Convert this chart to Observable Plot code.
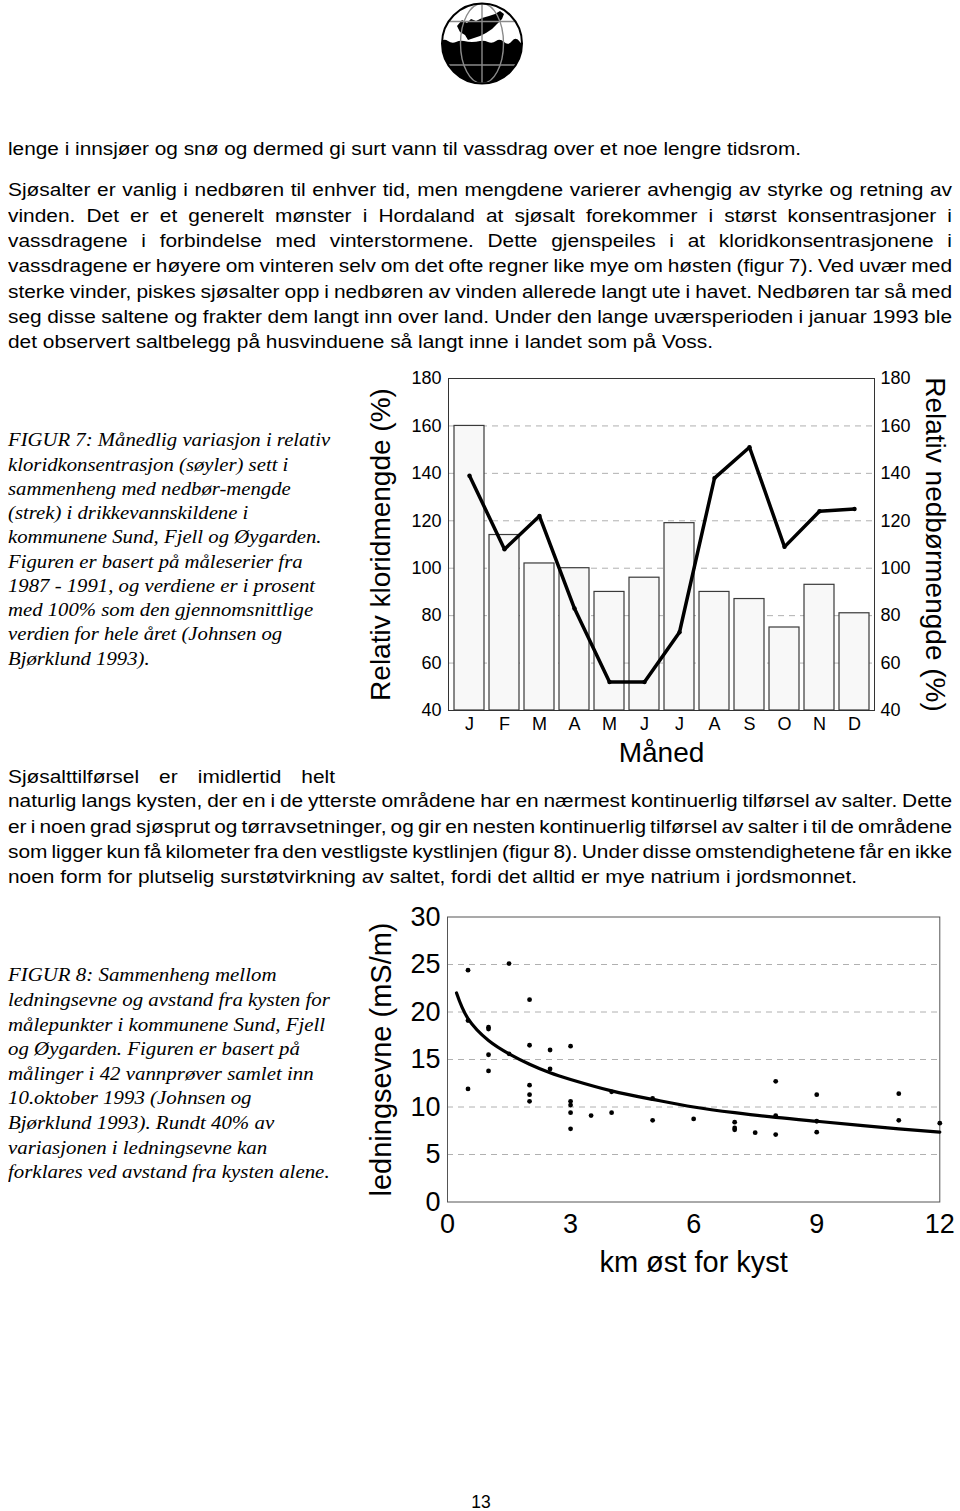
<!DOCTYPE html>
<html><head><meta charset="utf-8">
<script src="https://cdn.jsdelivr.net/npm/d3@7"></script>
<script src="https://cdn.jsdelivr.net/npm/@observablehq/plot@0.6"></script>
<style>
html,body{margin:0;padding:0;background:#fff;}
#page{position:relative;width:960px;height:1511px;overflow:hidden;background:#fff;}
.ln{position:absolute;white-space:pre;transform-origin:0 0;color:#000;}
.body{font-family:"Liberation Sans",Arial,sans-serif;}
.cap{font-family:"Liberation Serif","Times New Roman",serif;font-style:italic;}
.chart{position:absolute;}
</style></head><body><div id="page">
<svg id="logo" style="position:absolute;left:440px;top:2px" width="84" height="86">
<defs><clipPath id="cc"><circle cx="42" cy="41.5" r="40"/></clipPath></defs>
<g clip-path="url(#cc)">
<rect width="84" height="86" fill="#fff"/>
<path d="M0,40 q4,-4 8,-1 t8,1 t8,-1 t8,1 t8,-1 t8,1 t8,-1 t8,1 t8,-1 t8,1 t8,-1 L90,90 L0,90Z" fill="#000"/>
<path d="M17,24 L22,18 L27,21 L31,17 L36,19 L42,16 L49,14 L55,12 L60,9 L64,12 L62,17 L57,22 L52,27 L46,31 L40,34 L34,36 L28,38 L25,33 L20,30 Z" fill="#000"/>
<g fill="none" stroke="#8a8a8a" stroke-width="1.4">
<line x1="42" y1="0" x2="42" y2="86"/>
<ellipse cx="42" cy="41.5" rx="21.5" ry="40"/>
<line x1="0" y1="19.5" x2="84" y2="19.5"/>
<line x1="0" y1="63" x2="84" y2="63"/>
</g>
</g>
<circle cx="42" cy="41.5" r="40" fill="none" stroke="#000" stroke-width="2"/>
</svg>
</div>
<script>
// ---------- data: Figur 7 ----------
const monthLabels = ["J","F","M","A","M","J","J","A","S","O","N","D"];
const chloride = [160,114,102,100,90,96,119,90,87,75,93,81];   // bars (søyler)
const precip   = [139,108,122,83,52,52,73,138,151,109,124,125]; // line (strek)
const yTicks1 = [40,60,80,100,120,140,160,180];
const grid1 = [60,80,100,120,140,160];

// ---------- data: Figur 8 ----------
const sampleKm   = [0.5,0.5,0.5,1,1,1,1,1.5,1.5,2,2,2,2,2,2.5,2.5,3,3,3,3,3,3.5,4,4,5,5,6,7,7,7,7.5,8,8,8,9,9,9,11,11,12];
const sampleCond = [24.4,19.1,11.9,18.4,18.2,15.5,13.8,25.1,15.6,21.3,16.5,12.3,11.3,10.6,16.0,14.0,16.4,10.6,10.2,9.4,7.7,9.1,11.6,9.4,10.9,8.6,8.75,8.4,7.8,7.6,7.3,12.7,9.1,7.1,11.3,8.5,7.35,11.4,8.6,8.3];
const fitKm   = [0.22,0.5,1,1.5,2,2.5,3,4,5,6,7,8,9,10,11,12];
const fitCond = [22.0,19.3,17.0,15.6,14.5,13.6,12.9,11.7,10.8,10.0,9.4,8.9,8.5,8.1,7.7,7.35];
const xTicks2 = [0,3,6,9,12];
const yTicks2 = [0,5,10,15,20,25,30];
const grid2 = [5,10,15,20,25];

// ---------- text ----------
const para1 = [
 {t:"lenge i innsjøer og snø og dermed gi surt vann til vassdrag over et noe lengre tidsrom.", base:156, end:801, just:false}
];
const para2 = [
 {t:"Sjøsalter er vanlig i nedbøren til enhver tid, men mengdene varierer avhengig av styrke og retning av", base:197, end:952, just:true},
 {t:"vinden. Det er et generelt mønster i Hordaland at sjøsalt forekommer i størst konsentrasjoner i", base:223, end:952, just:true},
 {t:"vassdragene i forbindelse med vinterstormene. Dette gjenspeiles i at kloridkonsentrasjonene i", base:248, end:952, just:true},
 {t:"vassdragene er høyere om vinteren selv om det ofte regner like mye om høsten (figur 7). Ved uvær med", base:273, end:952, just:true},
 {t:"sterke vinder, piskes sjøsalter opp i nedbøren av vinden allerede langt ute i havet. Nedbøren tar så med", base:299, end:952, just:true},
 {t:"seg disse saltene og frakter dem langt inn over land. Under den lange uværsperioden i januar 1993 ble", base:324, end:952, just:true},
 {t:"det observert saltbelegg på husvinduene så langt inne i landet som på Voss.", base:349, end:713, just:false}
];
const para3 = [
 {t:"Sjøsalttilførsel er imidlertid helt", base:784, end:335, just:true},
 {t:"naturlig langs kysten, der en i de ytterste områdene har en nærmest kontinuerlig tilførsel av salter. Dette", base:808, end:952, just:true},
 {t:"er i noen grad sjøsprut og tørravsetninger, og gir en nesten kontinuerlig tilførsel av salter i til de områdene", base:834, end:952, just:true},
 {t:"som ligger kun få kilometer fra den vestligste kystlinjen (figur 8). Under disse omstendighetene får en ikke", base:859, end:952, just:true},
 {t:"noen form for plutselig surstøtvirkning av saltet, fordi det alltid er mye natrium i jordsmonnet.", base:884, end:857, just:false}
];
const cap7 = [
 {t:"FIGUR 7: Månedlig variasjon i relativ", base:446.5, end:333},
 {t:"kloridkonsentrasjon (søyler) sett i", base:470.8, end:288},
 {t:"sammenheng med nedbør-mengde", base:495},
 {t:"(strek) i drikkevannskildene i", base:519.3},
 {t:"kommunene Sund, Fjell og Øygarden.", base:543.5, end:325},
 {t:"Figuren er basert på måleserier fra", base:567.8},
 {t:"1987 - 1991, og verdiene er i prosent", base:592},
 {t:"med 100% som den gjennomsnittlige", base:616.3},
 {t:"verdien for hele året (Johnsen og", base:640.5},
 {t:"Bjørklund 1993).", base:665, end:147}
];
const cap8 = [
 {t:"FIGUR 8: Sammenheng mellom", base:981.5, end:276},
 {t:"ledningsevne og avstand fra kysten for", base:1006, end:332},
 {t:"målepunkter i kommunene Sund, Fjell", base:1030.7},
 {t:"og Øygarden. Figuren er basert på", base:1055.3},
 {t:"målinger i 42 vannprøver samlet inn", base:1079.9},
 {t:"10.oktober 1993 (Johnsen og", base:1104.5},
 {t:"Bjørklund 1993). Rundt 40% av", base:1129.1},
 {t:"variasjonen i ledningsevne kan", base:1153.7},
 {t:"forklares ved avstand fra kysten alene.", base:1178.3, end:328}
];

const page = document.getElementById("page");
function addLine(cls, size, text, x, base) {
  const s = document.createElement("span");
  s.className = "ln " + cls;
  s.style.fontSize = size + "px";
  s.style.lineHeight = size + "px";
  s.textContent = text;
  s.style.left = x + "px";
  const asc = cls === "cap" ? 0.8375 : 0.8465;
  s.style.top = (base - asc * size) + "px";
  page.appendChild(s);
  return s;
}
function paragraph(lines, cls, size, x) {
  const spans = lines.map(l => addLine(cls, size, l.t, x, l.base));
  const widths = spans.map(s => s.getBoundingClientRect().width);
  const ref = lines.map((l, i) => i).filter(i => !lines[i].just && lines[i].end != null);
  const c = d3.mean(ref, i => (lines[i].end - x) / widths[i]);
  spans.forEach((s, i) => {
    const l = lines[i];
    if (l.just) {
      const n = (l.t.match(/ /g) || []).length;
      const target = (l.end - x) / c;
      s.style.wordSpacing = ((target - widths[i]) / n) + "px";
    }
    s.style.transform = `scaleX(${c})`;
  });
}
paragraph(para1, "body", 17.5, 8);
paragraph(para2, "body", 17.5, 8);
paragraph(para3, "body", 17.5, 8);
paragraph(cap7, "cap", 18, 8);
paragraph(cap8, "cap", 18, 8);
const pn = addLine("body", 17.5, "13", 0, 1509);
pn.style.left = (481 - pn.getBoundingClientRect().width / 2) + "px";

// ---------- Figur 7 chart ----------
const months = monthLabels.map((m, i) => ({i, chloride: chloride[i], precip: precip[i]}));
const chart1 = Plot.plot({
  width: 605, height: 420,
  marginLeft: 93, marginRight: 86, marginTop: 18, marginBottom: 70,
  style: {fontFamily: "'Liberation Sans', Arial, sans-serif", background: "transparent", overflow: "visible", color: "#000"},
  x: {type: "band", domain: d3.range(12), paddingInner: 0.155, paddingOuter: 0.085},
  y: {domain: [40, 180]},
  marks: [
    Plot.ruleY(grid1, {stroke: "#b0b0b0", strokeDasharray: "6,5", strokeWidth: 1}),
    Plot.barY(months, {x: "i", y1: 40, y2: "chloride", fill: "#f8f8f8", stroke: "#3a3a3a", strokeWidth: 1.2}),
    Plot.line(months, {x: "i", y: "precip", stroke: "#000", strokeWidth: 3.5}),
    Plot.dot(months, {x: "i", y: "precip", r: 2.2, fill: "#000"}),
    Plot.frame({stroke: "#333", strokeWidth: 1}),
    Plot.axisX({tickSize: 0, tickPadding: 7, fontSize: 18, tickFormat: i => monthLabels[i], label: null}),
    Plot.axisY(yTicks1, {anchor: "left", tickSize: 0, tickPadding: 7, fontSize: 18, label: null}),
    Plot.axisY(yTicks1, {anchor: "right", tickSize: 0, tickPadding: 6, fontSize: 18, label: null}),
    Plot.text(["Måned"], {text: d => d, frameAnchor: "bottom", dy: 43, fontSize: 28, textAnchor: "middle", lineAnchor: "middle"}),
    Plot.text(["Relativ kloridmengde (%)"], {text: d => d, frameAnchor: "left", dx: -67, rotate: -90, fontSize: 28, textAnchor: "middle", lineAnchor: "middle"}),
    Plot.text(["Relativ nedbørmengde (%)"], {text: d => d, frameAnchor: "right", dx: 60, rotate: 90, fontSize: 28, textAnchor: "middle", lineAnchor: "middle"})
  ]
});
chart1.classList.add("chart");
chart1.style.left = "355px"; chart1.style.top = "360px";
page.appendChild(chart1);

// ---------- Figur 8 chart ----------
const samples = sampleKm.map((k, i) => ({km: k, cond: sampleCond[i]}));
const fit = fitKm.map((k, i) => ({km: k, cond: fitCond[i]}));
const chart2 = Plot.plot({
  width: 605, height: 400,
  marginLeft: 92, marginRight: 20.7, marginTop: 26.5, marginBottom: 88.5,
  style: {fontFamily: "'Liberation Sans', Arial, sans-serif", background: "transparent", overflow: "visible", color: "#000"},
  x: {domain: [0, 12]},
  y: {domain: [0, 30]},
  marks: [
    Plot.ruleY(grid2, {stroke: "#b0b0b0", strokeDasharray: "6,5", strokeWidth: 1}),
    Plot.frame({stroke: "#555", strokeWidth: 1}),
    Plot.line(fit, {x: "km", y: "cond", curve: "natural", stroke: "#000", strokeWidth: 3.2}),
    Plot.dot(samples, {x: "km", y: "cond", r: 2.4, fill: "#000"}),
    Plot.axisX(xTicks2, {tickSize: 0, tickPadding: 12, fontSize: 27, label: null}),
    Plot.axisY(yTicks2, {tickSize: 0, tickPadding: 7, fontSize: 27, label: null}),
    Plot.text(["km øst for kyst"], {text: d => d, frameAnchor: "bottom", dy: 60.5, fontSize: 29, textAnchor: "middle", lineAnchor: "middle"}),
    Plot.text(["ledningsevne (mS/m)"], {text: d => d, frameAnchor: "left", dx: -66, rotate: -90, fontSize: 29, textAnchor: "middle", lineAnchor: "middle"})
  ]
});
chart2.classList.add("chart");
chart2.style.left = "355px"; chart2.style.top = "890px";
page.appendChild(chart2);
</script></body></html>
